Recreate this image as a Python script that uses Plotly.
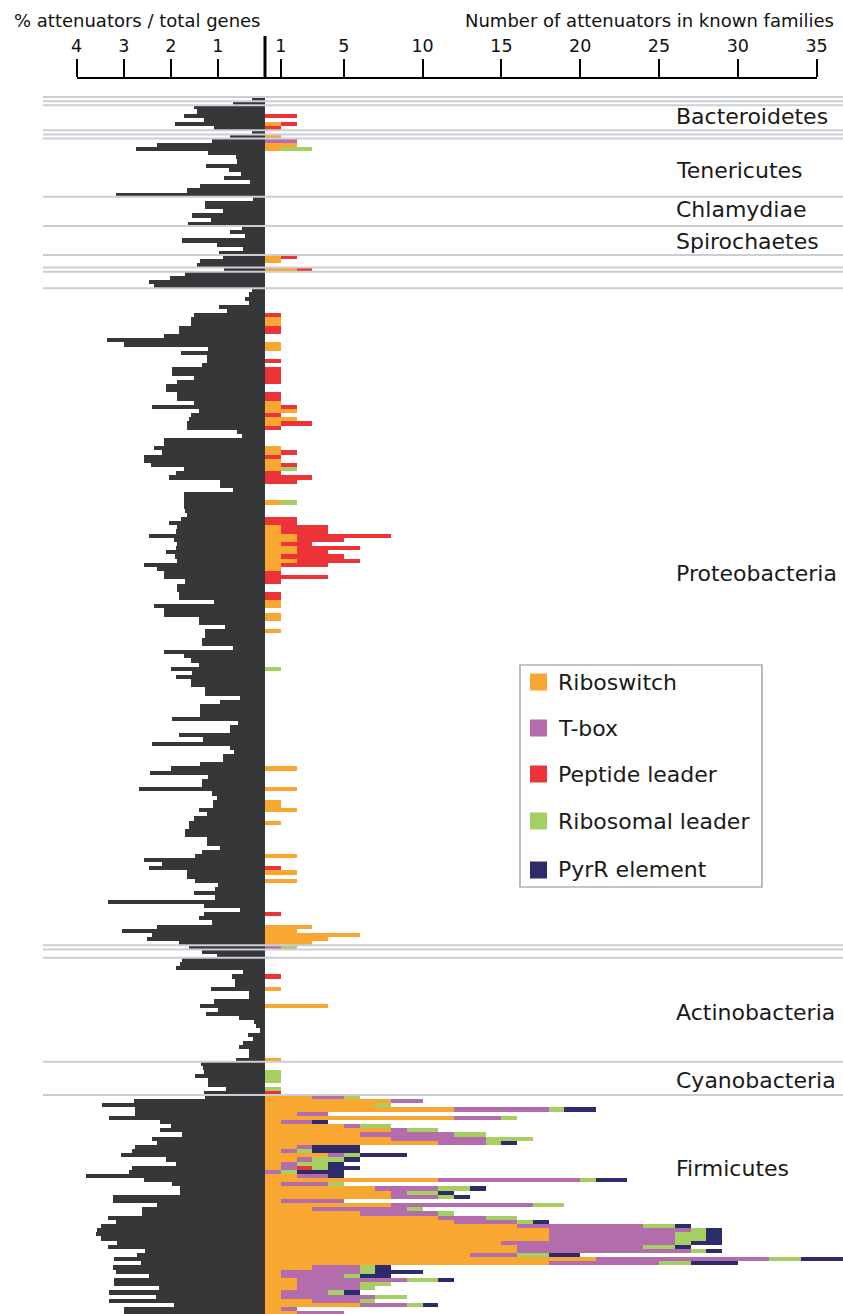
import plotly.graph_objects as go

# ---------------- data ----------------
families = ["Riboswitch", "T-box", "Peptide leader", "Ribosomal leader", "PyrR element"]
family_colors = ["#F8A830", "#B36DAD", "#EC3338", "#A6CF63", "#2E2B6D"]
dark_color = "#363738"

# % attenuators / total genes, one value per genome (top to bottom)
pct_g0 = [0.28]
pct_g1 = [0.67]
pct_bacteroidetes = [1.51, 1.45, 1.73, 1.29, 1.92, 1.09]
pct_g2 = [0.28]
pct_g3 = [0.75]
pct_tenericutes = [1.13, 2.29, 2.73, 1.20, 0.62, 0.60, 1.25, 0.77, 0.51, 0.86, 0.32, 1.39, 1.65, 3.17]
pct_chlamydiae = [0.26, 1.27, 1.27, 0.89, 1.54, 1.14, 1.64]
pct_spirochaetes = [0.49, 0.74, 0.42, 1.76, 1.02, 0.46, 0.97]
pct_g4 = [0.89, 1.39, 1.44]
pct_g5 = [0.87]
pct_g6 = [1.69, 2.02, 2.46, 2.35]
pct_proteobacteria = [
    0.28, 0.35, 0.42, 0.35, 0.97, 0.80, 1.51, 1.58, 1.58, 1.83,
    1.83, 2.15, 3.36, 2.99, 1.20, 1.78, 1.23, 1.23, 1.34, 1.97,
    1.97, 1.51, 1.87, 2.11, 2.11, 1.87, 1.87, 1.51, 2.39, 1.41,
    1.58, 1.62, 1.65, 1.65, 0.60, 0.49, 2.15, 2.15, 2.36, 2.18,
    2.57, 2.57, 2.43, 1.73, 1.90, 2.04, 0.95, 0.95, 0.67, 1.73,
    1.73,
    1.73, 1.73, 1.69, 1.65, 1.78, 2.04, 1.87, 1.90, 2.46, 1.94,
    1.87, 1.90, 2.11, 1.92, 1.87, 2.57, 2.29, 2.15, 2.15, 1.69,
    1.87, 1.87, 1.83, 1.83, 1.09, 2.36, 2.15, 2.15, 1.41, 1.41,
    0.85, 1.27, 1.27, 1.34, 1.34, 0.67, 2.15, 1.73, 1.58, 1.41,
    2.00, 1.55, 1.90, 1.58, 1.58, 1.27, 1.27, 0.54, 0.95, 1.37,
    1.37, 1.37, 1.97, 0.57, 0.74, 0.74, 1.83, 1.32, 2.39, 0.74,
    0.66, 0.89, 0.89, 1.37, 2.00, 2.44, 1.20, 1.34, 1.34, 2.68,
    1.13, 1.02, 1.11, 1.11, 1.41, 1.23, 1.51, 1.62, 1.62, 1.69,
    1.69, 1.23, 1.23, 0.95, 1.34, 1.48, 2.57, 2.18, 2.46, 1.65,
    1.65, 1.48, 0.99, 1.06, 1.51, 1.06, 3.33, 1.30, 0.53, 1.30,
    1.41, 1.13, 2.29, 3.03, 2.39, 2.50, 1.82,
]
pct_g8 = [1.62]
pct_g9 = [1.33, 1.02]
pct_actinobacteria = [1.76, 1.80, 1.90, 0.46, 0.70, 0.63, 0.63, 1.14, 0.35, 0.35,
                      1.08, 1.39, 0.99, 1.25, 0.55, 0.23, 0.19, 0.11, 0.37, 0.26,
                      0.46, 0.56, 0.35, 0.35, 0.61]
pct_cyanobacteria = [1.35, 1.32, 1.30, 1.49, 1.22, 1.22, 0.83, 1.29]
pct_firmicutes = [1.27, 2.78, 3.47, 2.75, 2.75, 3.31, 2.22, 2.00, 2.22, 1.76,
                  2.39, 2.29, 2.75, 2.82, 3.05, 2.11, 1.90, 2.82, 2.89, 3.80,
                  2.57, 1.97, 1.80, 1.80, 3.22, 3.22, 2.29, 2.61, 2.61, 3.33,
                  3.17, 3.49, 3.56, 3.59, 3.49, 3.15, 3.33, 2.54, 2.71, 3.20,
                  2.64, 3.22, 3.17, 2.46, 3.20, 3.20, 2.25, 3.31, 2.32, 3.31,
                  1.94, 2.99, 2.99]

# attenuators in known families per genome: row index -> (riboswitch, T-box, peptide, ribosomal, PyrR)
fam_g0 = {}
fam_g1 = {}
fam_bacteroidetes = {2: (0, 0, 2, 0, 0), 4: (1, 0, 1, 0, 0), 5: (0, 0, 1, 0, 0)}
fam_g2 = {}
fam_g3 = {0: (1, 0, 0, 0, 0)}
fam_tenericutes = {0: (0, 2, 0, 0, 0), 1: (2, 0, 0, 0, 0), 2: (1, 0, 0, 2, 0)}
fam_chlamydiae = {}
fam_spirochaetes = {}
fam_g4 = {0: (1, 0, 1, 0, 0), 1: (1, 0, 0, 0, 0)}
fam_g5 = {0: (2, 0, 1, 0, 0)}
fam_g6 = {}
fam_proteobacteria = {
    6: (0, 0, 1, 0, 0), 7: (1, 0, 0, 0, 0), 8: (1, 0, 0, 0, 0), 9: (0, 0, 1, 0, 0),
    10: (0, 0, 1, 0, 0), 13: (1, 0, 0, 0, 0), 14: (1, 0, 0, 0, 0), 17: (0, 0, 1, 0, 0),
    19: (0, 0, 1, 0, 0), 20: (0, 0, 1, 0, 0), 21: (0, 0, 1, 0, 0), 22: (0, 0, 1, 0, 0),
    25: (0, 0, 1, 0, 0), 26: (0, 0, 1, 0, 0), 27: (1, 0, 0, 0, 0), 28: (1, 0, 1, 0, 0),
    29: (2, 0, 0, 0, 0), 30: (0, 0, 1, 0, 0), 31: (2, 0, 0, 0, 0), 32: (1, 0, 2, 0, 0),
    33: (0, 0, 1, 0, 0), 38: (1, 0, 0, 0, 0), 39: (1, 0, 1, 0, 0), 40: (0, 0, 1, 0, 0),
    41: (1, 0, 0, 0, 0), 42: (1, 0, 1, 0, 0), 43: (1, 0, 0, 1, 0), 44: (0, 0, 1, 0, 0),
    45: (0, 0, 3, 0, 0), 46: (0, 0, 2, 0, 0), 51: (1, 0, 0, 1, 0), 55: (0, 0, 2, 0, 0),
    56: (0, 0, 2, 0, 0), 57: (1, 0, 3, 0, 0), 58: (1, 0, 3, 0, 0), 59: (2, 0, 6, 0, 0),
    60: (2, 0, 3, 0, 0), 61: (1, 0, 2, 0, 0), 62: (2, 0, 4, 0, 0), 63: (2, 0, 2, 0, 0),
    64: (1, 0, 4, 0, 0), 65: (2, 0, 4, 0, 0), 66: (1, 0, 3, 0, 0), 67: (1, 0, 0, 0, 0),
    68: (0, 0, 1, 0, 0), 69: (0, 0, 4, 0, 0), 70: (0, 0, 1, 0, 0), 73: (0, 0, 1, 0, 0),
    74: (0, 0, 1, 0, 0), 75: (1, 0, 0, 0, 0), 76: (1, 0, 0, 0, 0), 78: (1, 0, 0, 0, 0),
    79: (1, 0, 0, 0, 0), 82: (1, 0, 0, 0, 0), 91: (0, 0, 0, 1, 0), 115: (2, 0, 0, 0, 0),
    120: (2, 0, 0, 0, 0), 123: (1, 0, 0, 0, 0), 124: (1, 0, 0, 0, 0), 125: (2, 0, 0, 0, 0),
    128: (1, 0, 0, 0, 0), 136: (2, 0, 0, 0, 0), 139: (0, 0, 1, 0, 0), 140: (2, 0, 0, 0, 0),
    142: (2, 0, 0, 0, 0), 150: (0, 0, 1, 0, 0), 153: (3, 0, 0, 0, 0), 154: (2, 0, 0, 0, 0),
    155: (6, 0, 0, 0, 0), 156: (4, 0, 0, 0, 0), 157: (3, 0, 0, 0, 0),
}
fam_g8 = {0: (0, 1, 0, 1, 0)}
fam_g9 = {}
fam_actinobacteria = {4: (0, 0, 1, 0, 0), 7: (1, 0, 0, 0, 0), 11: (4, 0, 0, 0, 0), 24: (1, 0, 0, 0, 0)}
fam_cyanobacteria = {2: (0, 0, 0, 1, 0), 3: (0, 0, 0, 1, 0), 4: (0, 0, 0, 1, 0),
                     6: (0, 0, 0, 1, 0), 7: (0, 0, 1, 0, 0)}
fam_firmicutes = {
    0: (3, 2, 0, 1, 0), 1: (8, 2, 0, 0, 0), 2: (7, 0, 0, 1, 0), 3: (12, 6, 0, 1, 2),
    4: (2, 2, 0, 0, 0), 5: (12, 3, 0, 1, 0), 6: (1, 2, 0, 0, 1), 7: (5, 1, 0, 2, 0),
    8: (8, 1, 0, 2, 0), 9: (6, 6, 0, 2, 0), 10: (8, 6, 0, 3, 0), 11: (11, 3, 0, 1, 1),
    12: (2, 1, 0, 0, 3), 13: (1, 1, 0, 1, 3), 14: (4, 1, 0, 1, 3), 15: (2, 1, 0, 2, 1),
    16: (1, 1, 0, 2, 1), 17: (1, 1, 1, 1, 2), 18: (0, 1, 0, 1, 3), 19: (2, 2, 0, 0, 1),
    20: (11, 9, 0, 1, 2), 21: (1, 3, 0, 1, 0), 22: (7, 4, 0, 2, 1), 23: (8, 1, 0, 2, 1),
    24: (8, 3, 0, 1, 1), 25: (1, 4, 0, 0, 0), 26: (8, 9, 0, 2, 0), 27: (3, 6, 0, 1, 0),
    28: (6, 5, 0, 1, 0), 29: (11, 3, 0, 2, 0), 30: (12, 4, 0, 1, 1), 31: (16, 8, 0, 2, 1),
    32: (18, 9, 0, 1, 1), 33: (18, 8, 0, 2, 1), 34: (18, 8, 0, 2, 1), 35: (15, 11, 0, 1, 2),
    36: (16, 8, 0, 2, 1), 37: (16, 11, 0, 1, 1), 38: (13, 3, 0, 2, 2), 39: (21, 11, 0, 2, 3),
    40: (18, 7, 0, 2, 3), 41: (3, 3, 0, 1, 1), 42: (1, 5, 0, 1, 3), 43: (1, 4, 0, 1, 2),
    44: (2, 7, 0, 2, 1), 45: (2, 4, 0, 2, 0), 46: (2, 4, 0, 1, 0), 47: (1, 3, 0, 1, 1),
    48: (1, 6, 0, 2, 0), 49: (3, 3, 0, 1, 0), 50: (6, 3, 0, 1, 1), 51: (1, 1, 0, 0, 0),
    52: (2, 3, 0, 0, 0),
}

group_names = ["", "", "Bacteroidetes", "", "", "Tenericutes", "Chlamydiae", "Spirochaetes",
               "", "", "", "Proteobacteria", "", "", "Actinobacteria", "Cyanobacteria", "Firmicutes"]
group_pcts = [pct_g0, pct_g1, pct_bacteroidetes, pct_g2, pct_g3, pct_tenericutes, pct_chlamydiae,
              pct_spirochaetes, pct_g4, pct_g5, pct_g6, pct_proteobacteria, pct_g8, pct_g9,
              pct_actinobacteria, pct_cyanobacteria, pct_firmicutes]
group_fams = [fam_g0, fam_g1, fam_bacteroidetes, fam_g2, fam_g3, fam_tenericutes, fam_chlamydiae,
              fam_spirochaetes, fam_g4, fam_g5, fam_g6, fam_proteobacteria, fam_g8, fam_g9,
              fam_actinobacteria, fam_cyanobacteria, fam_firmicutes]
# vertical pixel positions of the phylum labels in the reference
label_px = {"Bacteroidetes": 116, "Tenericutes": 171, "Chlamydiae": 210, "Spirochaetes": 241,
            "Proteobacteria": 573, "Actinobacteria": 1012, "Cyanobacteria": 1080, "Firmicutes": 1168}

axis_left_ticks = [4, 3, 2, 1]
axis_right_ticks = [1, 5, 10, 15, 20, 25, 30, 35]

# ---------------- build rows ----------------
row_pct = []
row_fam = [[] for _ in families]
boundaries = []
start = 0
for pcts, fam in zip(group_pcts, group_fams):
    boundaries.append(start - 0.5)
    for i, v in enumerate(pcts):
        row_pct.append(v)
        t = fam.get(i, (0, 0, 0, 0, 0))
        for j in range(len(families)):
            row_fam[j].append(t[j])
    start += len(pcts)
n_rows = start
rows = list(range(n_rows))

W, H = 843, 1314
TOP = 78            # top margin (position of the scale line)
PLOT_H = H - TOP
ROW_TOP_PX = 97
PITCH = (1095 - 97) / 240.0
PX_PER_PCT = 47.1
PX_PER_UNIT = 15.76
ZERO_PX = 265


def py(p):
    return (H - p) / PLOT_H


fig = go.Figure()
fig.add_trace(go.Bar(x=row_pct, y=rows, orientation="h", marker=dict(color=dark_color, line=dict(width=0)),
                     xaxis="x", yaxis="y", showlegend=False, name="% attenuators"))
for j, name in enumerate(families):
    fig.add_trace(go.Bar(x=row_fam[j], y=rows, orientation="h",
                         marker=dict(color=family_colors[j], line=dict(width=0)),
                         xaxis="x2", yaxis="y", showlegend=False, name=name))
# empty traces so that the top scale axes are drawn
fig.add_trace(go.Scatter(x=[None], y=[None], xaxis="x3", yaxis="y", showlegend=False, hoverinfo="skip"))
fig.add_trace(go.Scatter(x=[None], y=[None], xaxis="x4", yaxis="y", showlegend=False, hoverinfo="skip"))

y_top = (95 - ROW_TOP_PX) / PITCH - 0.5
y_bot = (H - ROW_TOP_PX) / PITCH - 0.5

hidden = dict(visible=False, showgrid=False, zeroline=False, fixedrange=True)
scale_axis = dict(anchor="free", position=1, side="top", showline=True, linecolor="black", linewidth=2,
                  ticks="outside", ticklen=18, tickwidth=2, tickcolor="black", showgrid=False,
                  zeroline=False, tickfont=dict(size=17.5, color="#111"))

shapes = []
for b in boundaries:
    shapes.append(dict(type="line", xref="paper", yref="y", x0=43 / W, x1=1, y0=b, y1=b,
                       line=dict(color="#CBCED3", width=2), layer="above"))
# divider mark in the top scale
shapes.append(dict(type="line", xref="paper", yref="paper", x0=ZERO_PX / W, x1=ZERO_PX / W,
                   y0=py(78), y1=py(36), line=dict(color="black", width=3)))

annotations = [
    dict(text="% attenuators / total genes", xref="paper", yref="paper", x=12 / W, y=py(21),
         xanchor="left", yanchor="middle", showarrow=False, font=dict(size=18, color="#111")),
    dict(text="Number of attenuators in known families", xref="paper", yref="paper", x=836 / W, y=py(21),
         xanchor="right", yanchor="middle", showarrow=False, font=dict(size=18, color="#111")),
]
for name in group_names:
    if name:
        annotations.append(dict(text=name, xref="paper", yref="paper", x=674 / W, y=py(label_px[name]),
                                xanchor="left", yanchor="middle", showarrow=False,
                                font=dict(size=22, color="#1a1a1a")))

# legend box
leg_y = [682, 728, 774, 821, 870]
shapes.append(dict(type="rect", xref="paper", yref="paper", x0=520 / W, x1=762 / W, y0=py(887), y1=py(665),
                   line=dict(color="#8C8C8C", width=1.2), fillcolor="white", layer="above"))
for j, name in enumerate(families):
    shapes.append(dict(type="rect", xref="paper", yref="paper", x0=530 / W, x1=547 / W,
                       y0=py(leg_y[j] + 8.5), y1=py(leg_y[j] - 8.5), line=dict(width=0),
                       fillcolor=family_colors[j], layer="above"))
    annotations.append(dict(text=name, xref="paper", yref="paper", x=556 / W, y=py(leg_y[j]),
                            xanchor="left", yanchor="middle", showarrow=False,
                            font=dict(size=22, color="#1a1a1a")))

fig.update_layout(
    autosize=True, height=H, margin=dict(l=0, r=0, t=TOP, b=0, autoexpand=False),
    paper_bgcolor="white", plot_bgcolor="rgba(0,0,0,0)",
    font=dict(family="DejaVu Sans"),
    barmode="stack", bargap=0,
    xaxis=dict(domain=[43 / W, ZERO_PX / W], range=[(ZERO_PX - 43) / PX_PER_PCT, 0], **hidden),
    xaxis2=dict(domain=[ZERO_PX / W, 1], range=[0, (W - ZERO_PX) / PX_PER_UNIT], **hidden),
    xaxis3=dict(domain=[(ZERO_PX - 4 * PX_PER_PCT) / W, ZERO_PX / W], range=[4, 0],
                tickvals=axis_left_ticks, **scale_axis),
    xaxis4=dict(domain=[ZERO_PX / W, (ZERO_PX + 35 * PX_PER_UNIT) / W], range=[0, 35],
                tickvals=axis_right_ticks, **scale_axis),
    yaxis=dict(domain=[0, (H - 95) / PLOT_H], range=[y_bot, y_top], **hidden),
    shapes=shapes, annotations=annotations, showlegend=False,
)

fig.write_html(
    "out.html",
    config={"displayModeBar": False, "responsive": True},
    default_width="100%",
    post_script=(
        "document.documentElement.style.overflow='hidden';"
        "document.body.style.overflow='hidden';"
        "document.body.style.margin='0';"
        "var gd=document.getElementById('{plot_id}');"
        "Plotly.Plots.resize(gd);"
    ),
)
